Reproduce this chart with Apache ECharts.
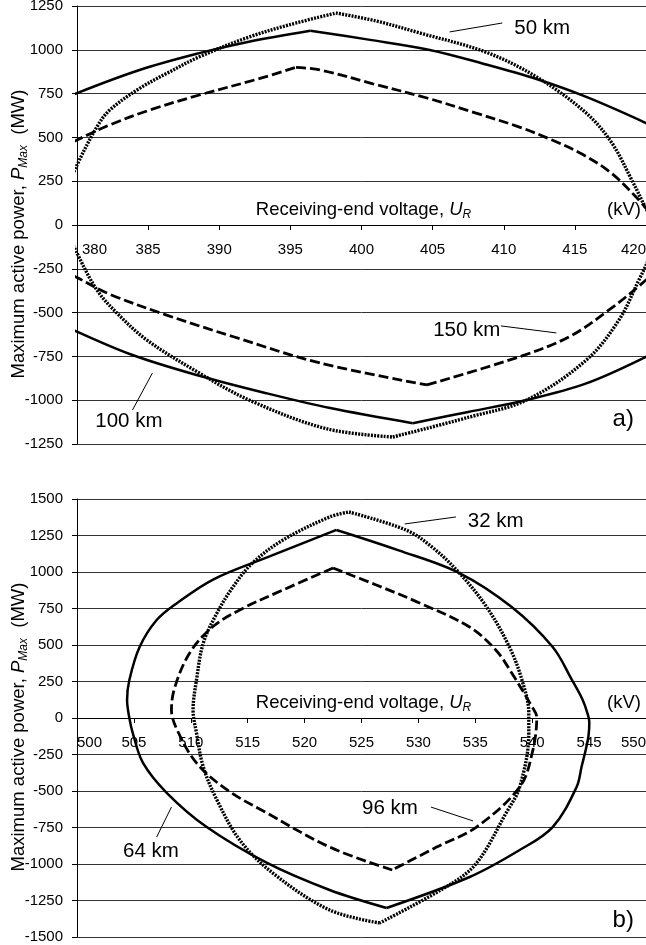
<!DOCTYPE html>
<html><head><meta charset="utf-8">
<script src="https://cdn.jsdelivr.net/npm/echarts@6/dist/echarts.min.js"></script>
<style>html,body{margin:0;padding:0;background:#fff}#c{width:646px;height:945px}</style>
</head><body><div id="c"></div>
<script>
const FONT = "'Liberation Sans', Arial, Helvetica, sans-serif";

// ---- axis ranges / ticks ----
const aVoltRange = [380, 420], aVoltStep = 5;
const aPowRange = [-1250, 1250], aPowStep = 250;
const bVoltRange = [500, 550], bVoltStep = 5;
const bPowRange = [-1500, 1500], bPowStep = 250;

// ---- Panel a) : 50 km (dotted), 100 km (solid), 150 km (dashed) ----
const a100UpU = [378, 380, 384.4, 388.6, 392, 396.4, 400.5, 404.8, 408.5, 412.3, 415.8, 420, 422];
const a100UpP = [680, 753, 885, 981, 1045, 1109, 1058, 999, 922, 833, 731, 582, 500];
const a100LoU = [378, 380, 383.9, 388.4, 393.3, 397.8, 403.6, 407.5, 411.6, 415.8, 420, 422];
const a100LoP = [-535, -609, -742, -856, -960, -1045, -1131, -1067, -999, -904, -752, -660];

const a150UpU = [378, 380, 382.3, 385.1, 388.6, 392.8, 395.4, 397.1, 400.8, 404.6, 408, 411.1, 413.4, 415.5, 417.5, 419.3, 420.5];
const a150UpP = [400, 485, 571, 656, 742, 835, 900, 885, 806, 725, 640, 559, 485, 405, 300, 160, 50];
const a150LoU = [378, 380, 382.3, 386.3, 391, 397.1, 404.6, 411.1, 414.6, 417.4, 420, 421];
const a150LoP = [-215, -300, -395, -514, -638, -788, -913, -752, -638, -485, -314, -230];

const a50UpU = [379, 380, 381.4, 382.3, 384.4, 386.3, 388.6, 392.1, 394.9, 398.2, 401, 404.1, 408.8, 412.3, 415.8, 417.6, 419, 419.9, 420.5];
const a50UpP = [150, 342, 560, 656, 780, 865, 960, 1073, 1142, 1210, 1165, 1096, 985, 845, 639, 468, 257, 110, 20];
const a50LoU = [379, 380, 381.4, 382.8, 384.9, 388.6, 392.1, 397.5, 402.2, 407.6, 411.6, 415.8, 418.1, 419.5, 420, 420.5];
const a50LoP = [20, -160, -371, -502, -656, -845, -999, -1162, -1210, -1096, -999, -771, -542, -314, -230, -130];

// ---- Panel b) : closed loops, starting at the upper peak and going clockwise ----
const b64U = [522.8, 528.2, 533.6, 538.2, 541.8, 543.5, 544.4, 544.85, 545.02, 544.95, 544.7, 544.35, 543.9, 541.8, 538.9, 534.5, 527.2, 522.2, 516.7, 511.4, 507.9, 505.8, 504.9, 504.6, 504.4, 504.6, 505.5, 507.0, 508.8, 512.0, 516.7, 522.8];
const b64P = [1288, 1150, 993, 760, 486, 260, 130, 34, -30, -120, -219, -330, -473, -747, -904, -1089, -1301, -1178, -993, -747, -514, -308, -103, 0, 123, 260, 486, 671, 788, 950, 1100, 1288];

const b32U = [523.9, 528.9, 531.2, 533.6, 536.0, 538.0, 539.1, 539.7, 539.7, 538.9, 537.7, 535.2, 533.0, 526.6, 522.2, 517.2, 514.3, 512.3, 511.1, 510.5, 510.2, 510.5, 511.1, 512.3, 513.7, 515.4, 518.1, 522.2, 523.9];
const b32P = [1411, 1288, 1171, 993, 760, 486, 260, 34, -103, -473, -651, -985, -1130, -1404, -1315, -1062, -836, -562, -336, -103, 55, 260, 514, 719, 897, 1060, 1219, 1377, 1411];

const b96U = [522.5, 526.3, 530.1, 534.5, 536.8, 538.2, 540.0, 540.4, 540.0, 538.9, 535.1, 531.6, 527.7, 522.2, 516.7, 513.2, 510.5, 508.8, 508.3, 508.6, 509.9, 511.9, 514.3, 518.1, 522.5];
const b96P = [1027, 911, 788, 623, 466, 308, 75, 7, -240, -473, -747, -884, -1041, -884, -651, -493, -308, -82, 55, 212, 445, 623, 740, 877, 1027];

// ---- annotations (data-space anchors) ----
const annotA = [
  {text: '50 km', at: [412.7, 1124], from: [406.2, 1102], to: [409.9, 1153]},
  {text: '100 km', at: [383.65, -1119], from: [383.9, -1056], to: [385.3, -845]},
  {text: '150 km', at: [407.4, -599], from: [409.8, -576], to: [413.7, -616]}
];
const annotB = [
  {text: '32 km', at: [536.8, 1349], from: [528.8, 1329], to: [533.3, 1377]},
  {text: '64 km', at: [506.5, -911], from: [507.0, -815], to: [508.3, -610]},
  {text: '96 km', at: [527.5, -616], from: [531.1, -610], to: [534.8, -705]}
];
const panelTags = [{text: 'a)', grid: 0, at: [418.4, -1107]}, {text: 'b)', grid: 1, at: [548, -1383]}];

function pts(U, P) { return U.map((u, i) => [u, P[i]]); }
function argExt(P, useMax) {
  let k = 0;
  P.forEach((p, i) => { if (useMax ? p > P[k] : p < P[k]) k = i; });
  return k;
}
// split a path at the corner points (the curves have sharp corners at their extremes)
function splitAt(data, idxs) {
  const out = []; let s = 0;
  idxs.forEach(k => { out.push(data.slice(s, k + 1)); s = k; });
  out.push(data.slice(s));
  return out.filter(p => p.length > 1);
}

const SOLID = {type: 'solid', width: 2.5, color: '#000'};
const DASH = {type: [10, 4], width: 2.8, color: '#000'};
const DOT = {type: [2, 1.2], width: 3.4, color: '#000'};

function lineSeries(gi, pieces, style, mark) {
  return pieces.map((data, j) => {
    const s = {type: 'line', xAxisIndex: gi, yAxisIndex: gi, data: data, symbol: 'none', showSymbol: false,
      smooth: 0.35, lineStyle: style, silent: true, animation: false, clip: true};
    if (mark && j === 0) {
      s.markLine = {silent: true, symbol: ['none', 'none'], animation: false, label: {show: false},
        lineStyle: {color: '#000', width: 1, type: 'solid'},
        data: mark.map(a => [{coord: a.from}, {coord: a.to}])};
    }
    return s;
  });
}
function upper(U, P) { return splitAt(pts(U, P), [argExt(P, true)]); }
function lower(U, P) { return splitAt(pts(U, P), [argExt(P, false)]); }
function loop(U, P) { return splitAt(pts(U, P), [argExt(P, false)]); }

const plain = v => String(v);
const labelRich = {f: {fontSize: 15, fontFamily: FONT, color: '#000', padding: [0, 0, 0, 5]}};

function xAx(gi, range, step, padFirst) {
  return {gridIndex: gi, type: 'value', min: range[0], max: range[1], interval: step,
    axisLine: {show: true, onZero: false, lineStyle: {color: '#000', width: 1}},
    axisTick: {show: true, length: 5, lineStyle: {color: '#000'}},
    axisLabel: {fontSize: 15, fontFamily: FONT, color: '#000', margin: 17, showMinLabel: true, showMaxLabel: true,
      alignMinLabel: 'left', alignMaxLabel: 'right', rich: labelRich,
      formatter: (v) => (padFirst && v === range[0]) ? '{f|' + v + '}' : String(v)},
    splitLine: {show: false}};
}
function yAx(gi, range, step) {
  return {gridIndex: gi, type: 'value', min: range[0], max: range[1], interval: step,
    axisLine: {show: true, onZero: false, lineStyle: {color: '#000', width: 1}},
    axisTick: {show: true, length: 5, lineStyle: {color: '#000'}},
    axisLabel: {fontSize: 15, fontFamily: FONT, color: '#000', margin: 14, formatter: plain},
    splitLine: {show: true, lineStyle: {color: '#333', width: 1}}};
}

const chart = echarts.init(document.getElementById('c'), null, {renderer: 'canvas'});
chart.setOption({
  animation: false,
  backgroundColor: '#fff',
  textStyle: {fontFamily: FONT},
  grid: [
    {left: 77, right: 0, top: 6, height: 438, containLabel: false, outerBoundsMode: 'none'},
    {left: 77, right: 0, top: 499, height: 438, containLabel: false, outerBoundsMode: 'none'}
  ],
  xAxis: [xAx(0, aVoltRange, aVoltStep, true), xAx(1, bVoltRange, bVoltStep, false)],
  yAxis: [yAx(0, aPowRange, aPowStep), yAx(1, bPowRange, bPowStep)],
  series: [].concat(
    lineSeries(0, upper(a100UpU, a100UpP), SOLID, annotA),
    lineSeries(0, lower(a100LoU, a100LoP), SOLID),
    lineSeries(0, upper(a150UpU, a150UpP), DASH),
    lineSeries(0, lower(a150LoU, a150LoP), DASH),
    lineSeries(0, upper(a50UpU, a50UpP), DOT),
    lineSeries(0, lower(a50LoU, a50LoP), DOT),
    lineSeries(1, loop(b64U, b64P), SOLID, annotB),
    lineSeries(1, loop(b96U, b96P), DASH),
    lineSeries(1, loop(b32U, b32P), DOT)
  )
});

// move each voltage axis (line, ticks, labels) up to the zero-power line
const ranges = [[aVoltRange, aPowRange], [bVoltRange, bPowRange]];
const offsets = ranges.map(([vr, pr], gi) => {
  const f = {xAxisIndex: gi, yAxisIndex: gi};
  const pz = chart.convertToPixel(f, [vr[0], 0]);
  const pb = chart.convertToPixel(f, [vr[0], pr[0]]);
  return {offset: pz[1] - pb[1]};
});

// texts positioned through the library's scales
const graphics = [];
const titleRich = {
  n: {fontSize: 18.5, fontFamily: FONT, color: '#000', lineHeight: 22},
  i: {fontSize: 18.5, fontFamily: FONT, fontStyle: 'italic', color: '#000', lineHeight: 22},
  s: {fontSize: 12, fontFamily: FONT, fontStyle: 'italic', color: '#000', lineHeight: 12, verticalAlign: 'bottom'}
};
ranges.forEach(([r], gi) => {
  const f = {xAxisIndex: gi, yAxisIndex: gi};
  const p0 = chart.convertToPixel(f, [r[0], 0]);
  const p1 = chart.convertToPixel(f, [r[1], 0]);
  graphics.push({type: 'text', silent: true, x: (p0[0] + p1[0]) / 2 + 2, y: p0[1] - 15,
    style: {text: '{n|Receiving-end voltage, }{i|U}{s|R}', rich: titleRich, align: 'center', verticalAlign: 'middle'}});
  graphics.push({type: 'text', silent: true, x: p1[0] - 5, y: p0[1] - 15,
    style: {text: '{n|(kV)}', rich: titleRich, align: 'right', verticalAlign: 'middle'}});
  graphics.push({type: 'text', silent: true, x: 19, y: p0[1] + 9, rotation: Math.PI / 2,
    style: {text: '{n|Maximum active power, }{i|P}{s|Max}{n|  (MW)}', rich: titleRich, align: 'center', verticalAlign: 'middle'}});
});
[[0, annotA], [1, annotB]].forEach(([gi, list]) => {
  list.forEach(a => {
    const p = chart.convertToPixel({xAxisIndex: gi, yAxisIndex: gi}, a.at);
    graphics.push({type: 'text', silent: true, x: p[0], y: p[1],
      style: {text: a.text, fontSize: 20.5, fontFamily: FONT, fill: '#000', align: 'center', verticalAlign: 'middle'}});
  });
});
panelTags.forEach(t => {
  const p = chart.convertToPixel({xAxisIndex: t.grid, yAxisIndex: t.grid}, t.at);
  graphics.push({type: 'text', silent: true, x: p[0], y: p[1],
    style: {text: t.text, fontSize: 24, fontFamily: FONT, fill: '#000', align: 'center', verticalAlign: 'middle'}});
});
chart.setOption({xAxis: offsets, graphic: graphics});
</script>
</body></html>
